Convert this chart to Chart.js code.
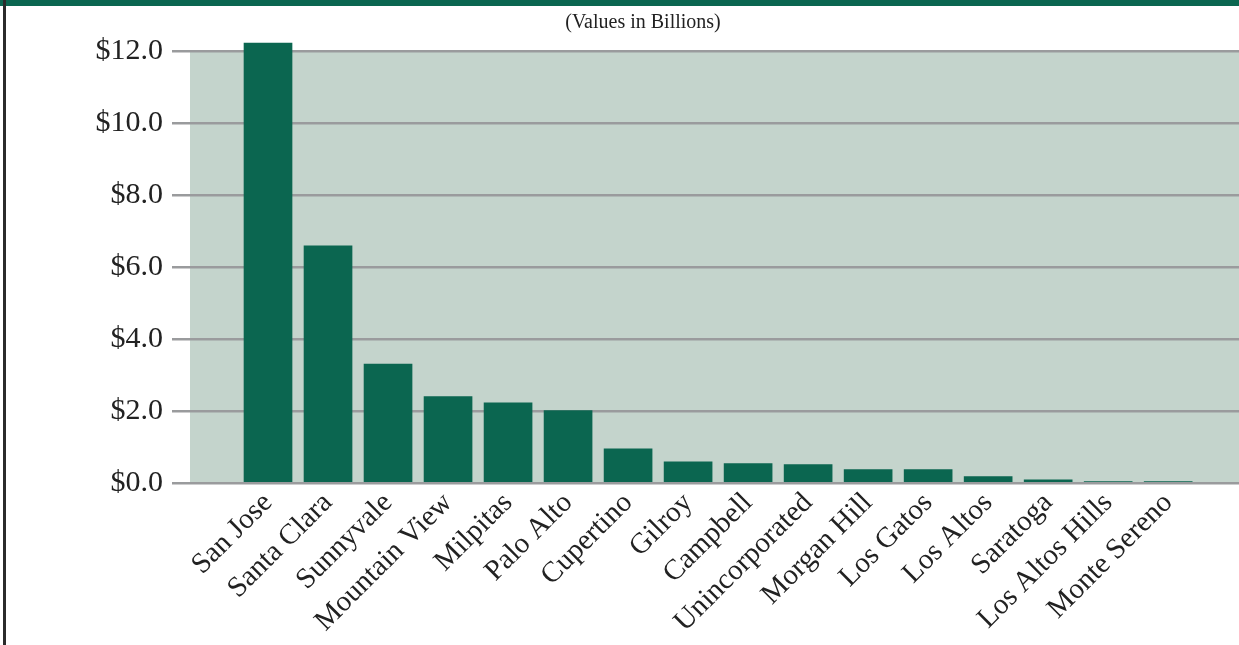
<!DOCTYPE html>
<html>
<head>
<meta charset="utf-8">
<script src="https://cdn.jsdelivr.net/npm/chart.js@4/dist/chart.umd.min.js"></script>
<style>
    html, body { margin: 0; padding: 0; background: #fff; }
    #wrap { position: relative; width: 1239px; height: 645px; overflow: hidden; }
    #band { position: absolute; left: 0; top: 0; width: 1239px; height: 6px; background: #0b6650; }
    #edge { position: absolute; left: 3px; top: 0; width: 3px; height: 645px; background: #2b2b2b; }
</style>
</head>
<body>
<div id="wrap">
    <canvas id="chart" width="1239" height="645"></canvas>
    <div id="band"></div>
    <div id="edge"></div>
</div>
<script>
const cities = ['San Jose', 'Santa Clara', 'Sunnyvale', 'Mountain View', 'Milpitas', 'Palo Alto',
    'Cupertino', 'Gilroy', 'Campbell', 'Unincorporated', 'Morgan Hill', 'Los Gatos',
    'Los Altos', 'Saratoga', 'Los Altos Hills', 'Monte Sereno'];
const values = [12.22, 6.59, 3.30, 2.40, 2.23, 2.01, 0.95, 0.59, 0.54, 0.51, 0.37, 0.37, 0.18, 0.09, 0.04, 0.04];
const yTicks = [0, 2, 4, 6, 8, 10, 12];
const titleText = '(Values in Billions)';

const serif = '"Liberation Serif", "Times New Roman", serif';

// plot background wash behind the grid
const plotBg = {
    id: 'plotBg',
    beforeDraw(chart) {
        const { ctx, chartArea: a } = chart;
        ctx.save();
        ctx.fillStyle = '#c4d4cc';
        ctx.fillRect(a.left, a.top, a.right - a.left, a.bottom - a.top);
        ctx.restore();
    }
};

new Chart(document.getElementById('chart'), {
    type: 'bar',
    data: {
        datasets: [{
            data: values.map((v, i) => ({ x: i, y: v })),
            backgroundColor: '#0b6650',
            barThickness: 48,
            clip: false
        }]
    },
    options: {
        responsive: false,
        animation: false,
        layout: { padding: { left: 47, right: 0, top: 0, bottom: 0 } },
        plugins: {
            legend: { display: false },
            tooltip: { enabled: false },
            title: {
                display: true,
                text: titleText,
                color: '#222',
                font: { family: serif, size: 20, weight: 'normal' },
                padding: { top: 11, bottom: 16 }
            }
        },
        scales: {
            x: {
                type: 'linear',
                min: -1.3,
                max: 16.18,
                offset: false,
                grid: { display: false },
                border: { display: false },
                afterBuildTicks: s => { s.ticks = cities.map((c, i) => ({ value: i })); },
                afterFit: s => { s.height = 162; },
                ticks: {
                    autoSkip: false,
                    minRotation: 45,
                    maxRotation: 45,
                    padding: -5,
                    color: '#222',
                    font: { family: serif, size: 29 },
                    callback: v => cities[v] ?? ''
                }
            },
            y: {
                min: 0,
                max: 12,
                afterBuildTicks: s => { s.ticks = yTicks.map(v => ({ value: v })); },
                afterFit: s => { s.width = 143; },
                border: { display: false },
                grid: { color: '#9a9b9d', lineWidth: 2.5, tickLength: 18 },
                ticks: {
                    padding: 9,
                    color: '#222',
                    font: { family: serif, size: 30 },
                    callback: v => '$' + v.toFixed(1)
                }
            }
        }
    },
    plugins: [plotBg]
});
</script>
</body>
</html>
